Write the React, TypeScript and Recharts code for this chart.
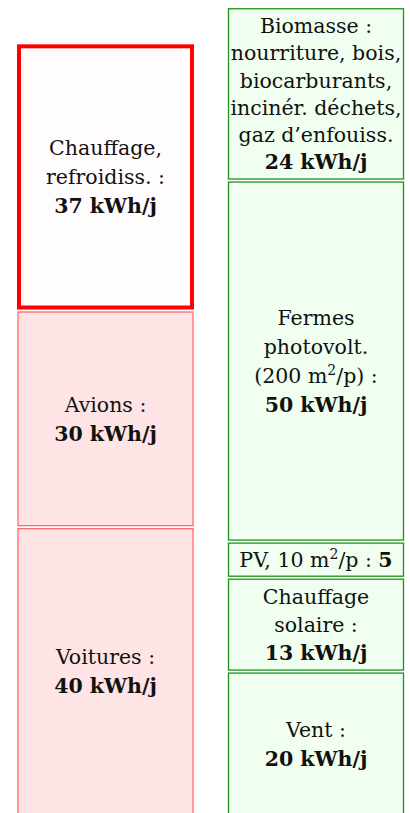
import { BarChart, Bar, XAxis, YAxis } from "recharts";

const columns = ["Consommation", "Production"];

const consoKeys = ["voitures", "avions", "chauffage"];
const consoValues = [40, 30, 37];
const consoLabels = [
  ["Voitures :", "**40 kWh/j**"],
  ["Avions :", "**30 kWh/j**"],
  ["Chauffage,", "refroidiss. :", "**37 kWh/j**"],
];

const prodKeys = ["vent", "chauffageSolaire", "pv", "fermes", "biomasse"];
const prodValues = [20, 13, 5, 50, 24];
const prodLabels = [
  ["Vent :", "**20 kWh/j**"],
  ["Chauffage", "solaire :", "**13 kWh/j**"],
  ["PV, 10 m^2/p : **5**"],
  ["Fermes", "photovolt.", "(200 m^2/p) :", "**50 kWh/j**"],
  [
    "Biomasse :",
    "nourriture, bois,",
    "biocarburants,",
    "incinér. déchets,",
    "gaz d’enfouiss.",
    "**24 kWh/j**",
  ],
];

const highlighted = ["chauffage"];

const data = columns.map((col, i) => {
  const row: Record<string, any> = { col };
  consoKeys.forEach((k, j) => (row[k] = i === 0 ? consoValues[j] : 0));
  prodKeys.forEach((k, j) => (row[k] = i === 1 ? prodValues[j] : 0));
  return row;
});

const FONT = "'DejaVu Serif', serif";
const FS = 20.5;

function renderLine(line: string) {
  const parts = line.split(/(\*\*[^*]+\*\*|\^2)/).filter((p) => p !== "");
  const out: any[] = [];
  let raised = false;
  parts.forEach((p, i) => {
    if (p === "^2") {
      out.push(
        <tspan key={i} dy={-8} fontSize={14}>
          2
        </tspan>
      );
      raised = true;
      return;
    }
    const bold = p.startsWith("**");
    const txt = bold ? p.slice(2, -2) : p;
    out.push(
      <tspan key={i} dy={raised ? 8 : undefined} fontWeight={bold ? 700 : 400}>
        {txt}
      </tspan>
    );
    raised = false;
  });
  return out;
}

function makeShape(lines: string[], side: "conso" | "prod", strong: boolean) {
  return (props: any) => {
    const { x, y, width, height } = props;
    if (!height || height < 1) return null;
    const inset = 1.5;
    let fill = side === "conso" ? "#ffe4e5" : "#f0fff0";
    let stroke = side === "conso" ? "#ff6b6b" : "#1f931f";
    let sw = 1.3;
    if (strong) {
      fill = "#fffcfd";
      stroke = "#ff0000";
      sw = 4;
    }
    const rx = strong ? x + 1.5 : x + 0.5;
    const rw = strong ? width - 3 : width - 1;
    const ry = y + inset + (strong ? 1.5 : 0);
    const rh = height - 2 * inset - (strong ? 3 : 0);
    const cx = x + width / 2;
    const cy = y + height / 2;
    const n = lines.length;
    const lh = Math.min(29, (height - 10) / n);
    return (
      <g>
        <rect x={rx} y={ry} width={rw} height={rh} fill={fill} stroke={stroke} strokeWidth={sw} />
        {lines.map((l, i) => (
          <text
            key={i}
            x={cx}
            y={cy + (i - (n - 1) / 2) * lh + 0.36 * FS}
            textAnchor="middle"
            fontFamily={FONT}
            fontSize={FS}
            fill="#111"
            style={{ whiteSpace: "pre" }}
          >
            {renderLine(l)}
          </text>
        ))}
      </g>
    );
  };
}

export default function App() {
  return (
    <div
      style={{
        position: "absolute",
        left: 0,
        top: 0,
        width: 410,
        height: 813,
        overflow: "hidden",
        background: "#fff",
      }}
    >
      <BarChart
        width={421}
        height={816}
        data={data}
        margin={{ top: 0, right: 0, bottom: 0, left: 0 }}
        barCategoryGap={17.5}
      >
        <XAxis dataKey="col" hide />
        <YAxis hide domain={[0, 113]} />
        {consoKeys.map((k, j) => (
          <Bar
            key={k}
            dataKey={k}
            stackId="s"
            isAnimationActive={false}
            shape={makeShape(consoLabels[j], "conso", highlighted.includes(k))}
          />
        ))}
        {prodKeys.map((k, j) => (
          <Bar
            key={k}
            dataKey={k}
            stackId="s"
            isAnimationActive={false}
            shape={makeShape(prodLabels[j], "prod", highlighted.includes(k))}
          />
        ))}
      </BarChart>
    </div>
  );
}
